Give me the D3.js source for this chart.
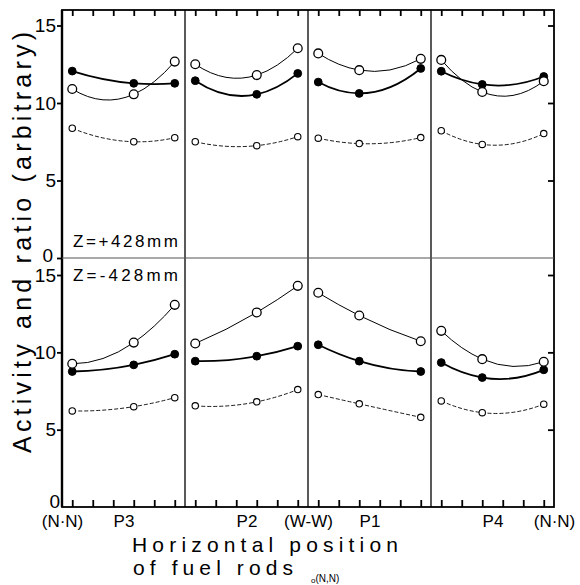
<!DOCTYPE html>
<html>
<head>
<meta charset="utf-8">
<script src="https://cdn.jsdelivr.net/npm/d3@7/dist/d3.min.js"></script>
<style>
  html, body { margin: 0; padding: 0; background: #fff; }
  svg { display: block; font-family: "Liberation Sans", Arial, sans-serif; }
</style>
</head>
<body>
<svg id="chart" width="580" height="585"></svg>
<script>
// ---------------- data ----------------
const panelNames = ["P3", "P2", "P1", "P4"];
// rod position index (0..5) inside each panel for the three measured points
const pointIndex = [[0, 3, 5], [0, 3, 5], [0, 2, 5], [0, 2, 5]];

// Z = +428 mm (upper half)
const upperOpen   = [[10.9, 10.56, 12.67], [12.5, 11.8, 13.53], [13.2, 12.12, 12.85], [12.78, 10.71, 11.41]];
const upperFilled = [[12.06, 11.27, 11.27], [11.44, 10.56, 11.91], [11.35, 10.62, 12.23], [12.05, 11.2, 11.71]];
const upperSmall  = [[8.37, 7.5, 7.76], [7.5, 7.25, 7.83], [7.73, 7.38, 7.77], [8.21, 7.33, 8.03]];

// Z = -428 mm (lower half)
const lowerOpen   = [[9.26, 10.63, 13.07], [10.57, 12.58, 14.3], [13.85, 12.38, 10.72], [11.39, 9.56, 9.39]];
const lowerFilled = [[8.76, 9.19, 9.88], [9.43, 9.75, 10.4], [10.49, 9.43, 8.76], [9.34, 8.37, 8.87]];
const lowerSmall  = [[6.21, 6.49, 7.07], [6.54, 6.8, 7.59], [7.27, 6.67, 5.8], [6.86, 6.1, 6.65]];

const yTicks = [0, 5, 10, 15];
const xTickLabels = ["(N·N)", "P3", "P2", "(W-W)", "P1", "P4", "(N·N)"];
const xTickLabelAt = [-0.5, 2.5, 8.5, 11.5, 14.5, 20.5, 23.5]; // in rod-index units
const halfLabels = ["Z=+428mm", "Z=-428mm"];
const xTitle = ["Horizontal position", "of fuel rods"];
const yTitle = "Activity and ratio (arbitrary)";
const strayNote = ["o", "(N,N)"];

// ---------------- layout ----------------
const L = 62, R = 554, T = 10, B = 507, MID = 258;
const svg = d3.select("#chart");

const x = d3.scaleLinear().domain([-0.5, 23.5]).range([L, R]);
const yU = d3.scaleLinear().domain([0, 16]).range([MID, T]);
const yL = d3.scaleLinear().domain([0, 16.1]).range([B, MID]);

// parabola through three points, drawn as two quadratic Bezier pieces
function curveParabola(context) {
  let pts;
  return {
    areaStart() {}, areaEnd() {},
    lineStart() { pts = []; },
    point(px, py) { pts.push([+px, +py]); },
    lineEnd() {
      if (pts.length !== 3) {
        pts.forEach((p, i) => i ? context.lineTo(p[0], p[1]) : context.moveTo(p[0], p[1]));
        return;
      }
      const [[x0, y0], [x1, y1], [x2, y2]] = pts;
      const df = t =>
        y0 * (2 * t - x1 - x2) / ((x0 - x1) * (x0 - x2)) +
        y1 * (2 * t - x0 - x2) / ((x1 - x0) * (x1 - x2)) +
        y2 * (2 * t - x0 - x1) / ((x2 - x0) * (x2 - x1));
      context.moveTo(x0, y0);
      context.quadraticCurveTo((x0 + x1) / 2, y0 + df(x0) * (x1 - x0) / 2, x1, y1);
      context.quadraticCurveTo((x1 + x2) / 2, y1 + df(x1) * (x2 - x1) / 2, x2, y2);
    }
  };
}

// ---------------- frame & axes ----------------
svg.append("rect").attr("x", L).attr("y", T).attr("width", R - L).attr("height", B - T)
  .attr("fill", "none").attr("stroke", "#000").attr("stroke-width", 1.8);
svg.append("line").attr("x1", L).attr("x2", L).attr("y1", T).attr("y2", B)
  .attr("stroke", "#000").attr("stroke-width", 2.4);

// panel dividers
[5.5, 11.5, 17.5].forEach(v => {
  svg.append("line").attr("x1", x(v)).attr("x2", x(v)).attr("y1", T).attr("y2", B)
    .attr("stroke", "#000").attr("stroke-width", 1.3);
});
// middle separator
svg.append("line").attr("x1", L).attr("x2", R).attr("y1", yU(0)).attr("y2", yU(0))
  .attr("stroke", "#555").attr("stroke-width", 1.1);

function styleAxis(g, size) {
  g.select(".domain").remove();
  g.selectAll(".tick line").attr("stroke", "#000").attr("stroke-width", 1.8);
  g.selectAll(".tick text").attr("font-size", size).attr("fill", "#000")
    .attr("font-family", "Liberation Sans, Arial, sans-serif");
}

// top and bottom rod ticks (inward)
const rodTicks = d3.range(24);
svg.append("g").attr("transform", `translate(0,${T})`)
  .call(d3.axisTop(x).tickValues(rodTicks).tickSize(-6).tickFormat(""))
  .call(g => styleAxis(g, 0));
svg.append("g").attr("transform", `translate(0,${B})`)
  .call(d3.axisBottom(x).tickValues(rodTicks).tickSize(-7).tickFormat(""))
  .call(g => styleAxis(g, 0));

// bottom category labels
svg.append("g").attr("transform", `translate(0,${B})`)
  .call(d3.axisBottom(x).tickValues(xTickLabelAt).tickSize(0).tickPadding(8)
    .tickFormat((d, i) => xTickLabels[i]))
  .call(g => styleAxis(g, 17));

// left axes
const gU = svg.append("g").attr("transform", `translate(${L},0)`)
  .call(d3.axisLeft(yU).tickValues(yTicks).tickSize(5).tickPadding(1))
  .call(g => styleAxis(g, 19));
gU.selectAll(".tick").filter(d => d === 0).select("text").attr("x", -9).attr("dy", "0.2em");

const gL = svg.append("g").attr("transform", `translate(${L},0)`)
  .call(d3.axisLeft(yL).tickValues(yTicks).tickSize(5).tickPadding(1))
  .call(g => styleAxis(g, 19));
gL.selectAll(".tick").filter(d => d === 0).call(t => {
  t.select("line").remove();
  t.select("text").attr("x", -2).attr("dy", "0.05em");
});

// right axes (inward ticks)
[yU, yL].forEach(s => {
  svg.append("g").attr("transform", `translate(${R},0)`)
    .call(d3.axisRight(s).tickValues([5, 10, 15]).tickSize(-6).tickFormat(""))
    .call(g => styleAxis(g, 0));
});

// ---------------- series ----------------
const styles = {
  open:   { r: 4.4, fill: "#fff", stroke: "#000", sw: 1.3, lw: 1.0, dash: null },
  filled: { r: 3.9, fill: "#000", stroke: "#000", sw: 1.0, lw: 1.8, dash: null },
  small:  { r: 3.2, fill: "#fff", stroke: "#000", sw: 1.1, lw: 0.9, dash: "4,2" }
};

function drawSeries(values, yScale, st) {
  values.forEach((vals, p) => {
    const pts = vals.map((v, i) => ({ k: p * 6 + pointIndex[p][i], v }));
    const line = d3.line().x(d => x(d.k)).y(d => yScale(d.v)).curve(curveParabola);
    svg.append("path").attr("d", line(pts)).attr("fill", "none")
      .attr("stroke", "#000").attr("stroke-width", st.lw)
      .attr("stroke-dasharray", st.dash);
    svg.append("g").selectAll("circle").data(pts).join("circle")
      .attr("cx", d => x(d.k)).attr("cy", d => yScale(d.v)).attr("r", st.r)
      .attr("fill", st.fill).attr("stroke", st.stroke).attr("stroke-width", st.sw);
  });
}

drawSeries(upperSmall, yU, styles.small);
drawSeries(upperFilled, yU, styles.filled);
drawSeries(upperOpen, yU, styles.open);
drawSeries(lowerSmall, yL, styles.small);
drawSeries(lowerFilled, yL, styles.filled);
drawSeries(lowerOpen, yL, styles.open);

// ---------------- texts ----------------
svg.append("text").attr("x", 73).attr("y", 247).attr("font-size", 17)
  .attr("textLength", 105).attr("lengthAdjust", "spacing").text(halfLabels[0]);
svg.append("text").attr("x", 73).attr("y", 281).attr("font-size", 17)
  .attr("textLength", 105).attr("lengthAdjust", "spacing").text(halfLabels[1]);

svg.append("text").attr("x", 132).attr("y", 552).attr("font-size", 21)
  .attr("textLength", 266).attr("lengthAdjust", "spacing").text(xTitle[0]);
svg.append("text").attr("x", 133).attr("y", 575).attr("font-size", 21)
  .attr("textLength", 160).attr("lengthAdjust", "spacing").text(xTitle[1]);

svg.append("text").attr("transform", "translate(31,453) rotate(-90)")
  .attr("font-size", 25).attr("textLength", 421).attr("lengthAdjust", "spacing")
  .text(yTitle);

const stray = svg.append("text").attr("x", 311).attr("y", 582).attr("font-size", 10);
stray.append("tspan").attr("font-size", 8).attr("dy", 1).text(strayNote[0]);
stray.append("tspan").attr("dy", -1).text(strayNote[1]);
</script>
</body>
</html>
